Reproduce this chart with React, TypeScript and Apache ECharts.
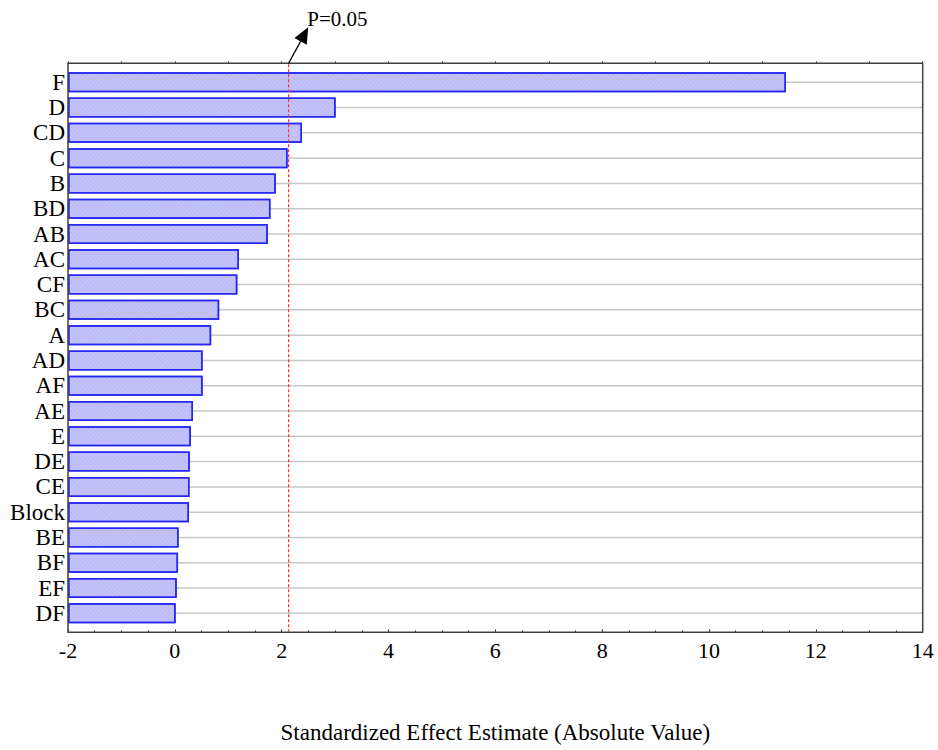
import React, { useEffect, useRef } from 'react';
import * as echarts from 'echarts';

// Effects in Pareto order (top to bottom)
const categories = ['F', 'D', 'CD', 'C', 'B', 'BD', 'AB', 'AC', 'CF', 'BC', 'A', 'AD', 'AF', 'AE', 'E', 'DE', 'CE', 'Block', 'BE', 'BF', 'EF', 'DF'];
const effects = [11.44, 3.01, 2.38, 2.11, 1.89, 1.79, 1.74, 1.2, 1.17, 0.83, 0.68, 0.52, 0.52, 0.34, 0.3, 0.28, 0.275, 0.265, 0.07, 0.06, 0.035, 0.015];
const xMin = -2;
const xMax = 14;
const xStep = 2;
const pCritical = 2.13;
const pLabel = 'P=0.05';
const xTitle = 'Standardized Effect Estimate (Absolute Value)';

const FONT = '"Liberation Serif", "Times New Roman", serif';

// frame geometry
const W = 938;
const H = 750;
const frameLeft = 68;
const frameRight = 922.7;
const frameTop = 63.3;
const frameBottom = 632.3;
const pad = (frameBottom - frameTop) / (categories.length + 0.5) * 0.25;
const gridTop = frameTop + pad;
const gridBottom = frameBottom - pad;

export default function App() {
  const ref = useRef<HTMLDivElement>(null);

  useEffect(() => {
    const chart = echarts.init(ref.current!, null, { renderer: 'svg' });
    chart.setOption({
      animation: false,
      backgroundColor: '#ffffff',
      textStyle: { fontFamily: FONT, color: '#000' },
      grid: {
        left: frameLeft,
        right: W - frameRight,
        top: gridTop,
        bottom: H - gridBottom,
        containLabel: false,
      },
      xAxis: [
        {
          type: 'value',
          position: 'bottom',
          min: xMin,
          max: xMax,
          interval: xStep,
          offset: pad,
          startValue: xMin,
          axisLine: { show: false },
          axisTick: { show: true, inside: true, length: 3, lineStyle: { color: '#404040' } },
          minorTick: { show: true, splitNumber: 4, length: 2, lineStyle: { color: '#404040' } },
          splitLine: { show: false },
          axisLabel: { fontFamily: FONT, fontSize: 22, color: '#000', margin: 7 },
          name: xTitle,
          nameLocation: 'middle',
          nameGap: 89,
          nameTextStyle: { fontFamily: FONT, fontSize: 23, color: '#000' },
        },
        {
          type: 'value',
          position: 'top',
          min: xMin,
          max: xMax,
          interval: 1,
          offset: pad,
          axisLine: { show: false },
          axisTick: { show: true, inside: false, length: 2, lineStyle: { color: '#404040' } },
          splitLine: { show: false },
          axisLabel: { show: false },
        },
      ],
      yAxis: [
        {
          type: 'category',
          data: categories,
          inverse: true,
          position: 'left',
          axisLine: { show: false },
          axisTick: { show: true, inside: true, length: 3, alignWithLabel: true, interval: 0, lineStyle: { color: '#404040' } },
          axisLabel: { interval: 0, fontFamily: FONT, fontSize: 23, color: '#000', margin: 3 },
          splitLine: { show: false },
        },
        {
          type: 'category',
          data: categories,
          inverse: true,
          position: 'right',
          axisLine: { show: false },
          axisTick: { show: true, inside: true, length: 3, alignWithLabel: true, interval: 0, lineStyle: { color: '#404040' } },
          axisLabel: { show: false },
          splitLine: { show: false },
        },
      ],
      series: [
        {
          // horizontal reference lines through each effect row
          type: 'custom',
          xAxisIndex: 0,
          yAxisIndex: 0,
          z: 1,
          silent: true,
          data: categories.map((c) => [0, c]),
          encode: { x: 0, y: 1 },
          renderItem: (params: any, api: any) => {
            const cs = params.coordSys;
            const y = api.coord([0, api.value(1)])[1];
            return {
              type: 'line',
              shape: { x1: cs.x, y1: y, x2: cs.x + cs.width, y2: y },
              style: { stroke: '#c8c8c8', lineWidth: 1.5 },
            };
          },
        },
        {
          type: 'bar',
          xAxisIndex: 0,
          yAxisIndex: 0,
          z: 2,
          data: effects,
          barWidth: 20,
          itemStyle: {
            color: '#c4c4fb',
            borderColor: '#2626f5',
            borderWidth: 1.5,
            decal: {
              symbol: 'rect',
              symbolSize: 1,
              dashArrayX: [1, 0],
              dashArrayY: [1, 2],
              rotation: Math.PI / 4,
              color: 'rgba(150, 150, 235, 0.28)',
            },
          },
        },
      ],
    });

    const px = chart.convertToPixel({ xAxisIndex: 0 }, pCritical) as number;
    const tipX = px + 19.6;
    const tipY = 27.3;
    const dx = tipX - px;
    const dy = tipY - frameTop;
    const len = Math.sqrt(dx * dx + dy * dy);
    const ux = dx / len;
    const uy = dy / len;
    const headLen = 16;
    const headHalf = 7;
    const bx = tipX - ux * headLen;
    const by = tipY - uy * headLen;

    chart.setOption({
      graphic: [
        {
          type: 'rect',
          z: 10,
          silent: true,
          shape: { x: frameLeft, y: frameTop, width: frameRight - frameLeft, height: frameBottom - frameTop },
          style: { fill: 'none', stroke: '#404040', lineWidth: 1.5 },
        },
        {
          type: 'line',
          z: 9,
          silent: true,
          shape: { x1: px, y1: frameTop + 1, x2: px, y2: frameBottom - 1 },
          style: { stroke: '#ff3030', lineWidth: 1.2, lineDash: [3, 2] },
        },
        {
          type: 'line',
          z: 11,
          silent: true,
          shape: { x1: px, y1: frameTop, x2: bx, y2: by },
          style: { stroke: '#000', lineWidth: 1.3 },
        },
        {
          type: 'polygon',
          z: 11,
          silent: true,
          shape: {
            points: [
              [tipX, tipY],
              [bx - uy * headHalf, by + ux * headHalf],
              [bx + uy * headHalf, by - ux * headHalf],
            ],
          },
          style: { fill: '#000' },
        },
        {
          type: 'text',
          z: 11,
          x: tipX - 1,
          y: 19,
          style: {
            text: pLabel,
            fontFamily: FONT,
            fontSize: 21,
            fill: '#000',
            verticalAlign: 'middle',
            align: 'left',
          },
        },
      ],
    });

    return () => chart.dispose();
  }, []);

  return (
    <div
      ref={ref}
      style={{ position: 'absolute', left: 0, top: 0, width: W, height: H, background: '#fff' }}
    />
  );
}
